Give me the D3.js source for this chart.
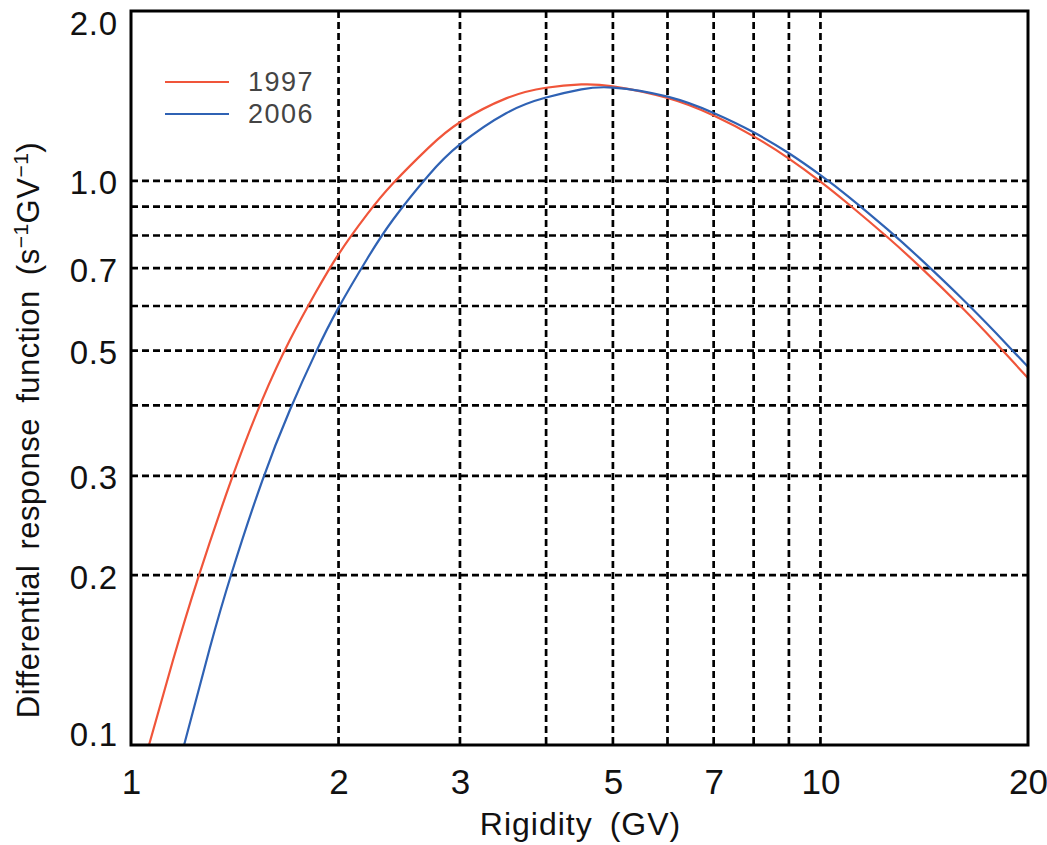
<!DOCTYPE html>
<html>
<head>
<meta charset="utf-8">
<script src="https://cdn.jsdelivr.net/npm/d3@7"></script>
<style>
  html, body { margin: 0; padding: 0; background: #fff; }
  svg { display: block; font-family: "Liberation Sans", Arial, Helvetica, sans-serif; }
</style>
</head>
<body>
<svg id="chart" width="1047" height="845"></svg>
<script>
// Rigidity (GV) and differential response function (s^-1 GV^-1)
const rigidity1997 = [1.062, 1.15, 1.25, 1.4, 1.55, 1.7, 1.85, 2.0, 2.2, 2.4, 2.7, 3.0, 3.5, 4.0, 4.5, 5, 6, 7, 8, 9, 10, 11, 12.5, 14, 16, 18, 20];
const response1997 = [0.100, 0.141, 0.197, 0.2965, 0.409, 0.522, 0.632, 0.741, 0.872, 0.990, 1.144, 1.27, 1.40, 1.462, 1.482, 1.47, 1.402, 1.305, 1.199, 1.095, 0.997, 0.908, 0.795, 0.701, 0.598, 0.5145, 0.447];

const rigidity2006 = [1.194, 1.3, 1.4, 1.55, 1.7, 1.85, 2.0, 2.2, 2.4, 2.7, 3.0, 3.5, 4.0, 4.5, 5, 6, 7, 8, 9, 10, 11, 12.5, 14, 16, 18, 20];
const response2006 = [0.100, 0.148, 0.202, 0.294, 0.3925, 0.494, 0.596, 0.727, 0.854, 1.022, 1.16, 1.318, 1.405, 1.452, 1.463, 1.410, 1.319, 1.219, 1.119, 1.0235, 0.936, 0.821, 0.725, 0.6205, 0.5362, 0.468];

const seriesNames = ["1997", "2006"];
const seriesColors = ["#f0553a", "#2f62b4"];

const xTickValues = [1, 2, 3, 5, 7, 10, 20];
const xTickLabels = ["1", "2", "3", "5", "7", "10", "20"];
const yTickValues = [0.1, 0.2, 0.3, 0.5, 0.7, 1.0, 2.0];
const yTickLabels = ["0.1", "0.2", "0.3", "0.5", "0.7", "1.0", "2.0"];

const xGridValues = [2, 3, 4, 5, 6, 7, 8, 9, 10];
const yGridValues = [0.2, 0.3, 0.4, 0.5, 0.6, 0.7, 0.8, 0.9, 1.0];

const svg = d3.select("#chart");
const plot = { left: 131, right: 1028, top: 11, bottom: 745 };

const x = d3.scaleLog().domain([1, 20]).range([plot.left, plot.right]);
const y = d3.scaleLog().domain([0.1, 2.0]).range([plot.bottom, plot.top]);

// dashed grid
const grid = svg.append("g")
  .attr("stroke", "#000")
  .attr("stroke-width", 2.7)
  .attr("stroke-dasharray", "7,4");

grid.selectAll("line.v").data(xGridValues).join("line")
  .attr("class", "v")
  .attr("x1", d => x(d)).attr("x2", d => x(d))
  .attr("y1", plot.top).attr("y2", plot.bottom);

grid.selectAll("line.h").data(yGridValues).join("line")
  .attr("class", "h")
  .attr("x1", plot.left).attr("x2", plot.right)
  .attr("y1", d => y(d)).attr("y2", d => y(d));

// response curves
const line = d3.line()
  .x(d => x(d[0]))
  .y(d => y(d[1]))
  .curve(d3.curveNatural);

const series = [
  d3.zip(rigidity1997, response1997),
  d3.zip(rigidity2006, response2006)
];

svg.append("defs").append("clipPath").attr("id", "plotClip")
  .append("rect")
  .attr("x", plot.left).attr("y", plot.top)
  .attr("width", plot.right - plot.left).attr("height", plot.bottom - plot.top);

svg.append("g").attr("clip-path", "url(#plotClip)")
  .selectAll("path").data(series).join("path")
  .attr("d", line)
  .attr("fill", "none")
  .attr("stroke", (d, i) => seriesColors[i])
  .attr("stroke-width", 2.2);

// frame
svg.append("rect")
  .attr("x", plot.left).attr("y", plot.top)
  .attr("width", plot.right - plot.left).attr("height", plot.bottom - plot.top)
  .attr("fill", "none")
  .attr("stroke", "#000")
  .attr("stroke-width", 3);

// axes: labels only, the frame carries the lines
const xAxis = d3.axisBottom(x)
  .tickValues(xTickValues)
  .tickFormat((d, i) => xTickLabels[i])
  .tickSize(0)
  .tickPadding(0);

svg.append("g")
  .attr("transform", `translate(0,${plot.bottom})`)
  .call(xAxis)
  .call(g => g.select(".domain").remove())
  .call(g => g.selectAll("text")
    .attr("y", 37)
    .attr("dy", "0.35em")
    .attr("font-size", 35)
    .attr("font-family", "Liberation Sans, Arial, sans-serif")
    .attr("fill", "#111"));

const yAxis = d3.axisLeft(y)
  .tickValues(yTickValues)
  .tickFormat((d, i) => yTickLabels[i])
  .tickSize(0)
  .tickPadding(0);

svg.append("g")
  .attr("transform", `translate(${plot.left},0)`)
  .call(yAxis)
  .call(g => g.select(".domain").remove())
  .call(g => g.selectAll(".tick")
    .attr("transform", d => `translate(0,${Math.min(Math.max(y(d) + 2, plot.top + 12), plot.bottom - 11)})`))
  .call(g => g.selectAll("text")
    .attr("x", -13)
    .attr("dy", "0.35em")
    .attr("font-size", 33)
    .attr("letter-spacing", 0.8)
    .attr("font-family", "Liberation Sans, Arial, sans-serif")
    .attr("fill", "#111"));

// axis titles
svg.append("text")
  .attr("x", (plot.left + plot.right) / 2 + 1)
  .attr("y", 835)
  .attr("text-anchor", "middle")
  .attr("font-size", 32)
  .attr("letter-spacing", 1)
  .attr("word-spacing", 7)
  .attr("fill", "#111")
  .text("Rigidity (GV)");

const yTitle = svg.append("text")
  .attr("transform", "translate(39,430) rotate(-90)")
  .attr("text-anchor", "middle")
  .attr("font-size", 31)
  .attr("letter-spacing", 0.5)
  .attr("word-spacing", 6)
  .attr("fill", "#111");
yTitle.append("tspan").text("Differential response function (s");
yTitle.append("tspan").attr("dy", -11).attr("font-size", 21).text("−1");
yTitle.append("tspan").attr("dy", 11).text("GV");
yTitle.append("tspan").attr("dy", -11).attr("font-size", 21).text("−1");
yTitle.append("tspan").attr("dy", 11).text(")");

// legend
const legend = svg.append("g");
seriesNames.forEach((name, i) => {
  const ly = 82 + i * 32;
  legend.append("line")
    .attr("x1", 165).attr("x2", 229)
    .attr("y1", ly).attr("y2", ly)
    .attr("stroke", seriesColors[i])
    .attr("stroke-width", 2);
  legend.append("text")
    .attr("x", 248).attr("y", ly + 9)
    .attr("font-size", 27)
    .attr("letter-spacing", 1.5)
    .attr("fill", "#444")
    .text(name);
});
</script>
</body>
</html>
